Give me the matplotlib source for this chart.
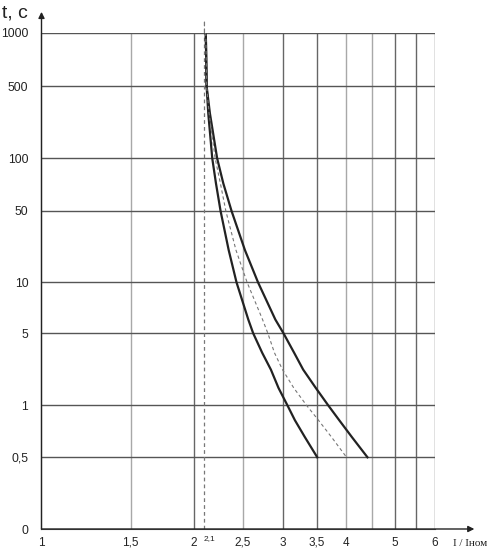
import numpy as np
import matplotlib
matplotlib.use("Agg")
import matplotlib.pyplot as plt
from matplotlib.ticker import FixedLocator, FixedFormatter, NullLocator

# ---- data ----
x_ticks = [1, 1.5, 2, 2.5, 3, 3.5, 4, 5, 6]
x_tick_labels = ["1", "1,5", "2", "2,5", "3", "3,5", "4", "5", "6"]
x_grid = [1.5, 2, 2.5, 3, 3.5, 4, 4.5, 5, 5.5, 6]
y_ticks = [0, 0.5, 1, 5, 10, 50, 100, 500, 1000]
y_tick_labels = ["0", "0,5", "1", "5", "10", "50", "100", "500", "1000"]

t_pts = [1000, 500, 273, 100, 72, 50, 20.7, 10, 6.03, 5, 3.23, 2.22, 1.47, 1, 0.82, 0.655, 0.5]
x_left = [2.113, 2.121, 2.137, 2.176, 2.213, 2.26, 2.345, 2.43, 2.564, 2.622, 2.732, 2.842,
          2.943, 3.064, 3.170, 3.317, 3.510]
x_right = [2.113, 2.121, 2.153, 2.225, 2.288, 2.376, 2.525, 2.68, 2.900, 3.010, 3.160, 3.292,
           3.488, 3.689, 3.879, 4.109, 4.412]
x_mid = [2.113, 2.121, 2.145, 2.205, 2.258, 2.315, 2.424, 2.55, 2.736, 2.803, 2.889, 2.996,
         3.155, 3.343, 3.529, 3.745, 4.011]
i_marker = 2.1

# ---- custom piecewise-log y scale (as in the original drawing) ----
_LX = np.log10([1e-3, 0.5, 1, 5, 10, 50, 100, 500, 1000])
_POS = np.array([0, 71.7, 123.7, 195.7, 246.7, 318, 370.7, 442.7, 496.3])

def fwd(t):
    t = np.asarray(t, dtype=float)
    return np.interp(np.log10(np.clip(t, 1e-3, None)), _LX, _POS)

def inv(p):
    p = np.asarray(p, dtype=float)
    return 10 ** np.interp(p, _POS, _LX)

plt.rcParams['font.family'] = ['Liberation Sans', 'DejaVu Sans']

fig = plt.figure(figsize=(4.89, 5.5), dpi=100)
ax = fig.add_axes([41.5/489, 21/550, 393.5/489, 496.3/550])
ax.set_xscale('log')
ax.set_yscale('function', functions=(fwd, inv))
ax.set_xlim(1, 6)
ax.set_ylim(0, 1000)

# grid
light = "#a8a8a8"
dark = "#666666"
vcols = [light, dark, light, dark, dark, light, light, dark, dark, dark]
for xv, c in zip(x_grid, vcols):
    ax.axvline(xv, color=c, lw=1.0, zorder=1)
for yv in y_ticks[1:]:
    ax.axhline(yv, color="#555555", lw=1.0, zorder=1)

# dashed marker line
dash = (0, (3, 2.5))
ax.plot([i_marker, i_marker], [0, 1000], color="#777777", lw=0.9, ls=dash, zorder=2)
ax.annotate("", xy=(i_marker, 1.022), xycoords=ax.get_xaxis_transform(),
            xytext=(i_marker, 1.0), textcoords=ax.get_xaxis_transform(),
            arrowprops=dict(arrowstyle="-", color="#777777", lw=0.9, ls=dash,
                            shrinkA=0, shrinkB=0))

# curves
ax.plot(x_left, t_pts, color="#222222", lw=1.6, zorder=3, solid_joinstyle="round")
ax.plot(x_right, t_pts, color="#222222", lw=1.6, zorder=3, solid_joinstyle="round")
ax.plot(x_mid, t_pts, color="#777777", lw=0.8, ls=dash, zorder=3)

# spines
for s in ["top", "right"]:
    ax.spines[s].set_visible(False)
ax.spines["left"].set_color("#555555")
ax.spines["bottom"].set_color("#555555")

# axis arrows
ax.annotate("", xy=(0, 1.042), xycoords="axes fraction", xytext=(0, 0),
            textcoords="axes fraction",
            arrowprops=dict(arrowstyle="-|>", color="#222222", lw=1.0,
                            mutation_scale=9, shrinkA=0, shrinkB=0))
ax.annotate("", xy=(1.1, 0), xycoords="axes fraction", xytext=(0, 0),
            textcoords="axes fraction",
            arrowprops=dict(arrowstyle="-|>", color="#222222", lw=1.0,
                            mutation_scale=9, shrinkA=0, shrinkB=0))

# ticks
ax.xaxis.set_major_locator(FixedLocator(x_ticks))
ax.xaxis.set_major_formatter(FixedFormatter(x_tick_labels))
ax.xaxis.set_minor_locator(NullLocator())
ax.yaxis.set_major_locator(FixedLocator(y_ticks))
ax.yaxis.set_major_formatter(FixedFormatter(y_tick_labels))
ax.yaxis.set_minor_locator(NullLocator())
ax.tick_params(axis='x', length=0, pad=5.5, labelsize=8.5, colors="#222222")
ax.tick_params(axis='y', length=0, pad=9.5, labelsize=8.7, colors="#222222")

# extra labels
tr = ax.get_xaxis_transform()
ax.text(i_marker * 1.025, -0.012, "2,1", transform=tr, fontsize=6,
        ha="center", va="top", color="#222222")
fig.text(2/489, 1 - 13/550, "t, c", fontsize=14, ha="left", va="center",
         color="#222222")
fig.text(470/489, 1 - 544/550, "I / Iном", fontsize=8, ha="center", va="center",
         family="Liberation Serif", color="#222222")

fig.savefig("out.png", dpi=100)
